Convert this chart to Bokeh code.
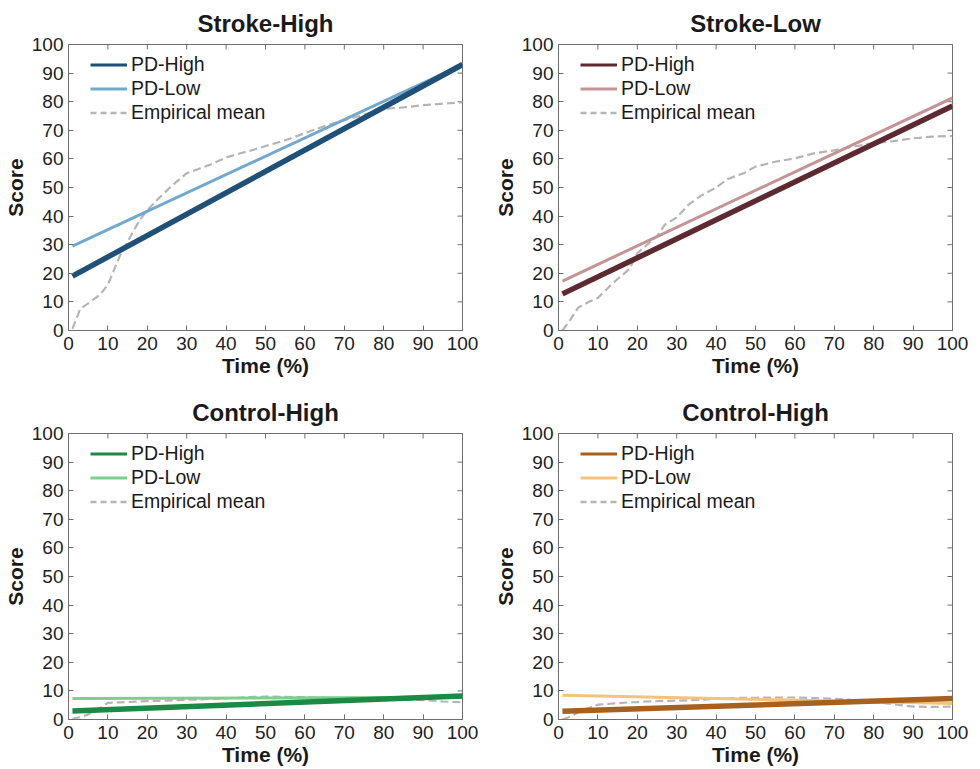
import math
from bokeh.plotting import figure
from bokeh.models import Range1d, Legend, LegendItem, FixedTicker
from bokeh.layouts import column, row
from bokeh.embed import file_html
from bokeh.resources import INLINE

# ---------------- data ----------------
titles = ["Stroke-High", "Stroke-Low", "Control-High", "Control-High"]
series_names = ["PD-High", "PD-Low", "Empirical mean"]
ticks = [0, 10, 20, 30, 40, 50, 60, 70, 80, 90, 100]
x_min, x_max = 0, 100
y_min, y_max = 0, 100

fit_time = [1, 100]
emp_time = [1, 3, 5, 8, 10, 13, 15, 18, 20, 22, 25, 27, 30, 33, 36, 40, 43, 47,
            50, 55, 60, 65, 70, 75, 80, 85, 90, 95, 100]

sh_pd_high = [19.0, 93.0]
sh_pd_low = [29.5, 93.0]
sh_emp = [0.6, 7.6, 9.5, 12.5, 16.0, 26.0, 31.0, 38.5, 42.0, 45.0, 49.0, 51.5, 55.0,
          56.5, 58.0, 60.5, 61.7, 63.2, 64.5, 66.5, 69.0, 71.5, 73.5, 75.5, 77.5,
          78.0, 78.8, 79.3, 79.8]

sl_pd_high = [12.8, 78.5]
sl_pd_low = [17.3, 81.3]
sl_emp = [0.0, 3.8, 8.0, 10.2, 11.4, 15.5, 18.0, 21.5, 27.0, 29.4, 33.0, 37.0, 39.5,
          44.0, 47.0, 50.0, 53.0, 55.0, 57.3, 59.0, 60.2, 62.0, 63.0, 64.3, 65.5,
          66.2, 67.2, 67.8, 68.0]

ch1_pd_high = [3.0, 8.2]
ch1_pd_low = [7.3, 7.8]
ch1_emp = [0.2, 0.8, 1.8, 4.0, 5.8, 6.0, 6.1, 6.3, 6.4, 6.5, 6.6, 6.7, 6.9, 7.0, 7.2,
           7.4, 7.6, 7.9, 8.0, 7.9, 7.8, 7.6, 7.4, 7.2, 7.0, 6.9, 6.8, 6.3, 6.0]

ch2_pd_high = [2.9, 7.3]
ch2_pd_low = [8.5, 5.6]
ch2_emp = [0.0, 1.0, 2.5, 4.2, 5.2, 5.5, 5.7, 6.0, 6.1, 6.3, 6.4, 6.5, 6.6, 6.7, 6.9,
           7.2, 7.4, 7.6, 7.6, 7.7, 7.7, 7.5, 7.2, 6.8, 6.2, 5.3, 4.5, 4.4, 4.5]

high_colors = ["#1f5078", "#5e2a31", "#1b8a45", "#a8601f"]
low_colors = ["#72a8cc", "#c49495", "#7ccf8d", "#f5c27c"]
emp_color = "#b5b5b5"

panels = [
    (sh_pd_high, sh_pd_low, sh_emp),
    (sl_pd_high, sl_pd_low, sl_emp),
    (ch1_pd_high, ch1_pd_low, ch1_emp),
    (ch2_pd_high, ch2_pd_low, ch2_emp),
]

FONT = "Liberation Sans"
FRAME_COLOR = "#6e6e6e"
NAN = float("nan")


def make_panel(i, top_row):
    hi, lo, emp = panels[i]
    h = 385 if top_row else 384
    p = figure(width=490, height=h, output_backend="svg", toolbar_location=None,
               x_range=Range1d(x_min, x_max), y_range=Range1d(y_min, y_max),
               min_border_left=68, min_border_right=28,
               min_border_top=44 if top_row else 48,
               min_border_bottom=55 if top_row else 50)
    p.background_fill_color = "white"
    p.border_fill_color = "white"
    p.grid.visible = False
    p.outline_line_color = FRAME_COLOR
    p.outline_line_width = 1

    p.title.text = titles[i]
    p.title.align = "center"
    p.title.text_font = FONT
    p.title.text_font_size = "24px"
    p.title.text_font_style = "bold"
    p.title.text_color = "#1a1a1a"
    p.title.standoff = 15

    for ax in (p.xaxis[0], p.yaxis[0]):
        ax.ticker = FixedTicker(ticks=ticks)
        ax.minor_tick_line_color = None
        ax.major_tick_in = 5
        ax.major_tick_out = 0
        ax.axis_line_color = FRAME_COLOR
        ax.major_tick_line_color = FRAME_COLOR
        ax.major_label_text_font = FONT
        ax.major_label_text_font_size = "19px"
        ax.major_label_text_color = "#222222"
        ax.axis_label_text_font = FONT
        ax.axis_label_text_font_size = "21px"
        ax.axis_label_text_font_style = "bold"
        ax.axis_label_text_color = "#1a1a1a"
    p.xaxis.axis_label = "Time (%)"
    p.yaxis.axis_label = "Score"
    p.xaxis.major_label_standoff = 6
    p.xaxis.axis_label_standoff = 1
    p.yaxis.major_label_standoff = 5
    p.yaxis.axis_label_standoff = 2

    # inward ticks on the top and right frame edges (half of each dash is clipped)
    n = len(ticks)
    p.scatter(x=ticks, y=[y_max] * n, marker="dash", angle=math.pi / 2, size=10,
              line_color=FRAME_COLOR, line_width=1)
    p.scatter(x=[x_max] * n, y=ticks, marker="dash", size=10,
              line_color=FRAME_COLOR, line_width=1)

    # data lines
    p.line(x=emp_time, y=emp, line_color=emp_color, line_width=2.2, line_dash="8 4")
    p.line(x=fit_time, y=lo, line_color=low_colors[i], line_width=3)
    p.line(x=fit_time, y=hi, line_color=high_colors[i], line_width=5.5)

    # legend proxies (thinner legend strokes, nothing drawn in the plot)
    r_hi = p.line(x=[NAN], y=[NAN], line_color=high_colors[i], line_width=3)
    r_lo = p.line(x=[NAN], y=[NAN], line_color=low_colors[i], line_width=3)
    r_emp = p.line(x=[NAN], y=[NAN], line_color=emp_color, line_width=2.5, line_dash="6 4")
    legend = Legend(items=[LegendItem(label=series_names[0], renderers=[r_hi]),
                           LegendItem(label=series_names[1], renderers=[r_lo]),
                           LegendItem(label=series_names[2], renderers=[r_emp])],
                    location=(22, 206))
    legend.background_fill_alpha = 0
    legend.border_line_color = None
    legend.padding = 0
    legend.margin = 0
    legend.spacing = 1
    legend.glyph_width = 37
    legend.glyph_height = 21
    legend.label_height = 21
    legend.label_standoff = 4
    legend.label_text_font = FONT
    legend.label_text_font_size = "19.5px"
    legend.label_text_color = "#1a1a1a"
    p.add_layout(legend, "center")
    return p


p1 = make_panel(0, True)
p2 = make_panel(1, True)
p3 = make_panel(2, False)
p4 = make_panel(3, False)

layout = column(row(p1, p2), row(p3, p4))
open("out.html", "w").write(file_html(layout, INLINE))
